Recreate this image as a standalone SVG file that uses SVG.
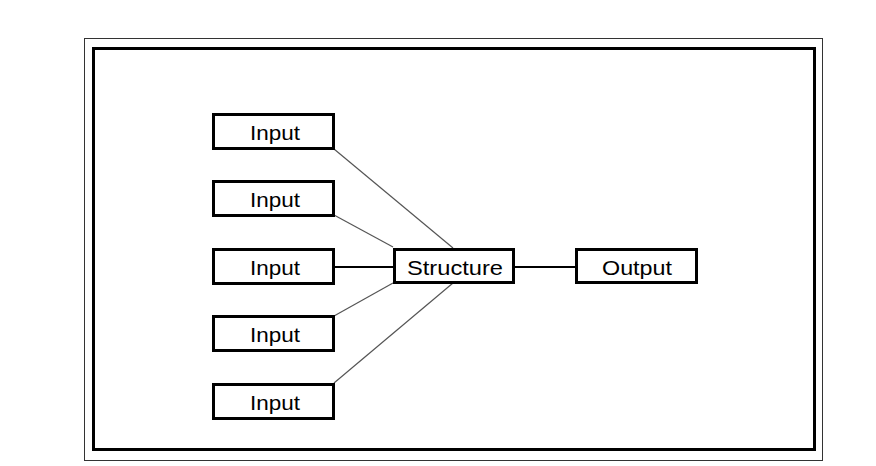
<svg xmlns="http://www.w3.org/2000/svg" width="876" height="466" viewBox="0 0 876 466">
<style>
.box{fill:#fff;stroke:#000;stroke-width:3}
.lbl{font-family:"Liberation Sans",Arial,sans-serif;font-size:21px;fill:#000;text-anchor:middle}
.thin{stroke:#555;stroke-width:1.2;fill:none}
.thick{stroke:#000;stroke-width:2;fill:none}
</style>
<rect width="876" height="466" fill="#fff"/>
<rect x="84.5" y="38.5" width="738" height="422" fill="none" stroke="#333" stroke-width="1"/>
<rect x="93.5" y="48.5" width="721" height="401" fill="none" stroke="#000" stroke-width="3"/>
<g id="connectors">
<line class="thin" x1="334" y1="149" x2="453" y2="248"/>
<line class="thin" x1="334" y1="215" x2="393" y2="247"/>
<line class="thick" x1="333" y1="267" x2="394" y2="267"/>
<line class="thin" x1="334" y1="316" x2="393" y2="283"/>
<line class="thin" x1="334" y1="383" x2="453" y2="283"/>
<line class="thick" x1="514" y1="267" x2="576" y2="267"/>
</g>
<g id="input1"><rect class="box" x="213.5" y="114.5" width="120" height="34"/><text class="lbl" x="275" y="140" textLength="50" lengthAdjust="spacingAndGlyphs">Input</text></g>
<g id="input2"><rect class="box" x="213.5" y="181.5" width="120" height="34"/><text class="lbl" x="275" y="207" textLength="50" lengthAdjust="spacingAndGlyphs">Input</text></g>
<g id="input3"><rect class="box" x="213.5" y="249.5" width="120" height="34"/><text class="lbl" x="275" y="275" textLength="50" lengthAdjust="spacingAndGlyphs">Input</text></g>
<g id="input4"><rect class="box" x="213.5" y="316.5" width="120" height="34"/><text class="lbl" x="275" y="342" textLength="50" lengthAdjust="spacingAndGlyphs">Input</text></g>
<g id="input5"><rect class="box" x="213.5" y="384.5" width="120" height="34"/><text class="lbl" x="275" y="410" textLength="50" lengthAdjust="spacingAndGlyphs">Input</text></g>
<g id="structure"><rect class="box" x="394.5" y="249.5" width="119" height="33"/><text class="lbl" x="455" y="275" textLength="96" lengthAdjust="spacingAndGlyphs">Structure</text></g>
<g id="output"><rect class="box" x="576.5" y="249.5" width="120" height="33"/><text class="lbl" x="637" y="275" textLength="70" lengthAdjust="spacingAndGlyphs">Output</text></g>
</svg>
